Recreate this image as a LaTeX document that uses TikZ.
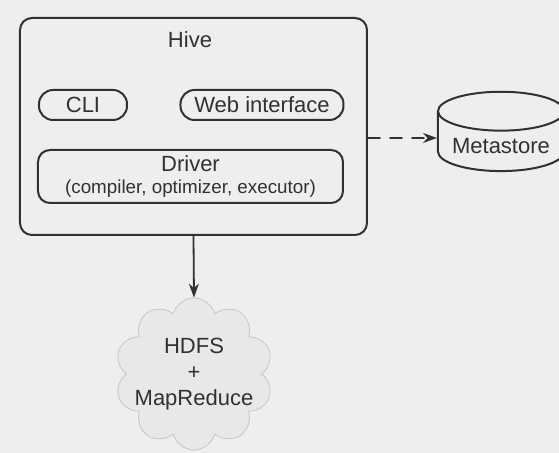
\documentclass[tikz,border=0pt]{standalone}
\usepackage{fontspec}
\setmainfont{Liberation Sans}
\usetikzlibrary{shapes.geometric,shapes.symbols,arrows.meta}
\definecolor{bgcol}{RGB}{238,238,238}
\definecolor{ink}{RGB}{51,48,50}
\tikzset{
	box/.style={draw=ink,line width=1pt,rounded corners=6pt},
	pill/.style={draw=ink,line width=1pt,rounded corners=7pt,minimum height=15pt},
	store/.style={draw=ink,line width=1pt,shape=cylinder,shape border rotate=90,aspect=0.35,fill=bgcol},
	puff/.style={draw=gray!45,fill=gray!18,shape=cloud,cloud puffs=10,aspect=1,inner sep=0pt}
}
\begin{document}
\begin{tikzpicture}[>={Stealth[length=7pt,width=5pt]},line join=round,line cap=round,text=ink,font=\fontsize{11}{13}\selectfont,x=0.5pt,y=-0.5pt]
	\useasboundingbox (0,0) rectangle (559,453);
	\fill[bgcol] (0,0) rectangle (559,453);
	% Hive and its parts
	\node[box,minimum width=173.5pt,minimum height=108.5pt] (hive) at (193.5,126.5) {};
	\node (title) at (190,40) {Hive};
	\node[pill,minimum width=44pt] (cli) at (83,105) {CLI};
	\node[pill,minimum width=81.5pt] (web) at (262,105) {Web interface};
	\node[box,minimum width=152.5pt,minimum height=26.5pt,align=center,inner sep=1pt] (driver) at (190.5,176.5)
		{Driver\\[-2pt]{\fontsize{9.4}{11}\selectfont(compiler, optimizer, executor)}};
	% outside
	\node[store,minimum width=63pt,minimum height=34pt] (meta) at (501,146) {Metastore};
	\coordinate (metain) at ([yshift=4pt]meta.west);
	\node[puff,minimum width=79pt,minimum height=76pt] (hdfs) at (194,374) {};
	\node[align=center] (hdfstext) at (hdfs.center) {HDFS\\+\\MapReduce};
	\draw[->,ink,line width=0.9pt,dashed,dash pattern=on 6pt off 5pt] (hive.east |- metain) -- (metain);
	\draw[->,ink,line width=0.9pt] (hive.south) -- (hdfs.north);
\end{tikzpicture}
\end{document}
